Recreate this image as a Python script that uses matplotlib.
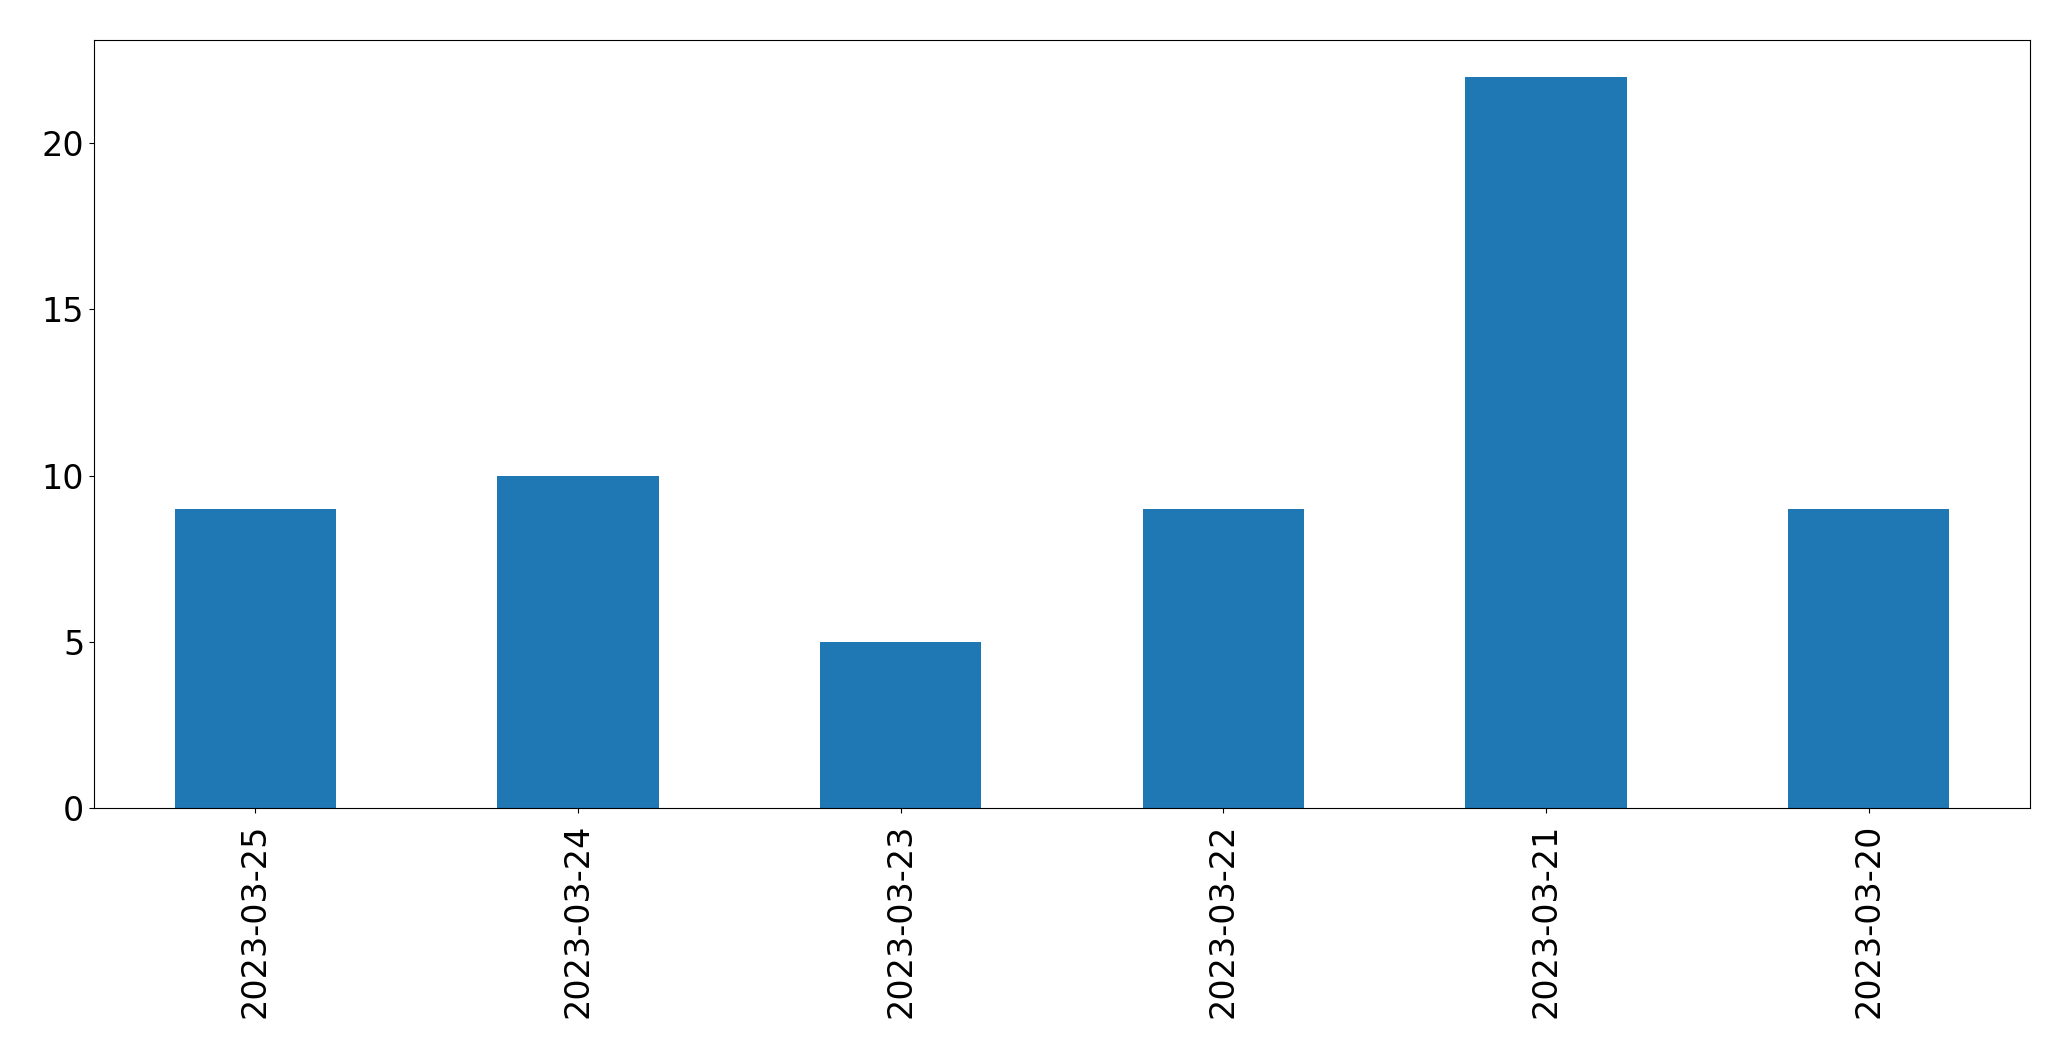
import matplotlib
matplotlib.use("Agg")
import matplotlib.pyplot as plt
import pandas as pd

# daily counts, newest first (as in the source)
dates = ["2023-03-25", "2023-03-24", "2023-03-23", "2023-03-22", "2023-03-21", "2023-03-20"]
counts = [9, 10, 5, 9, 22, 9]

series = pd.Series(counts, index=dates)

fig = plt.figure(figsize=(20.71, 10.61), dpi=100)
ax = fig.add_axes([94 / 2071, 1 - 808 / 1061, (2030 - 94) / 2071, (808 - 40) / 1061])
series.plot(kind="bar", ax=ax, color="#1f77b4")
ax.tick_params(axis="both", labelsize=24)
ax.tick_params(axis="x", pad=8)

fig.savefig("out.png", dpi=100)
